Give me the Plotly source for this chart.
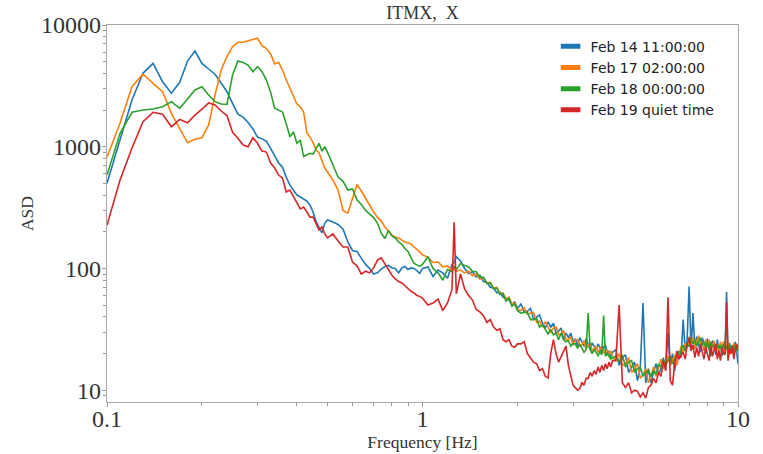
import plotly.graph_objects as go

freq = [0.10, 0.11, 0.12, 0.13, 0.14, 0.15, 0.16, 0.17, 0.18, 0.19, 0.20, 0.21, 0.22, 0.23, 0.24, 0.25,
        0.26, 0.27, 0.28, 0.29, 0.30, 0.31, 0.32, 0.33, 0.34, 0.35, 0.36, 0.37, 0.38, 0.39, 0.40, 0.41,
        0.42, 0.43, 0.44, 0.45, 0.46, 0.47, 0.48, 0.49, 0.50,
        0.52, 0.54, 0.56, 0.58, 0.60, 0.62, 0.64, 0.66, 0.68, 0.70, 0.72, 0.74, 0.76, 0.78, 0.80, 0.82,
        0.84, 0.86, 0.88, 0.90, 0.92, 0.94, 0.96, 0.98, 1.00,
        1.04, 1.08, 1.12, 1.16, 1.20, 1.24, 1.26, 1.28, 1.32, 1.36, 1.40, 1.44, 1.48, 1.52, 1.56, 1.60,
        1.64, 1.68, 1.72, 1.76, 1.80, 1.84, 1.88, 1.92, 1.96, 2.00,
        2.05, 2.10, 2.15, 2.20, 2.25, 2.30, 2.35, 2.40, 2.45, 2.50, 2.55, 2.60, 2.65, 2.70, 2.75, 2.80,
        2.85, 2.90, 2.95, 3.00, 3.05, 3.10, 3.15, 3.20, 3.25, 3.30, 3.35, 3.40, 3.45, 3.50, 3.55, 3.60,
        3.65, 3.70, 3.75, 3.80, 3.85, 3.90, 3.95, 4.00,
        4.1, 4.2, 4.3, 4.4, 4.5, 4.6, 4.7, 4.8, 4.9, 5.0, 5.1, 5.2, 5.3, 5.4, 5.5, 5.6, 5.7, 5.8, 5.9, 6.0,
        6.1, 6.2, 6.3, 6.4, 6.5, 6.6, 6.7, 6.8, 6.9, 7.0, 7.1, 7.2, 7.3, 7.4, 7.5, 7.6, 7.7, 7.8, 7.9, 8.0,
        8.1, 8.2, 8.3, 8.4, 8.5, 8.6, 8.7, 8.8, 8.9, 9.0, 9.1, 9.2, 9.3, 9.4, 9.5, 9.6, 9.7, 9.8, 9.9, 10.0]

feb14 = [500, 1150, 2420, 4010, 4840, 3420, 2750, 3380, 5060, 6110, 4840, 4350, 3940, 3340, 2830, 2270,
         1850, 1750, 1580, 1400, 1200, 1160, 1110, 970, 840, 735, 680, 560, 484, 441, 401, 386,
         372, 358, 332, 290, 242, 215, 196, 236, 250,
         241, 230, 210, 165, 140, 138, 121, 108, 100, 90, 92, 99, 104, 106, 101, 100,
         92, 101, 104, 98, 101, 100, 96, 91, 100,
         103, 86, 97, 92, 83, 108, 112, 125, 115, 100, 91, 94, 85, 88, 78, 77,
         70, 69, 63, 64, 58, 57, 55, 51, 53, 47,
         51, 44, 44.5, 47, 38, 40, 41.5, 35.5, 32.5, 36.5, 33, 35.5, 29.5, 30.5, 32.5, 26,
         29.5, 27, 29.5, 25, 26.5, 23, 27, 25, 23, 26.5, 23.5, 21.5, 24.5, 23, 21.5, 24,
         22.5, 20, 22.5, 23.5, 20, 21, 18.5, 20.5,
         21.5, 16, 18.5, 19.5, 14, 15.5, 17, 12, 15, 52, 11.5, 15, 11.5, 14, 16.5, 13.5, 15, 18.5, 14.5, 30,
         16, 20, 14.5, 18.5, 21, 18.5, 38, 21, 26.5, 71, 21.5, 43, 22, 27.5, 23.5, 20.5, 27, 24.5, 20, 26.5,
         22, 19, 25.5, 23.5, 19.5, 26, 21, 23.5, 19, 25, 21, 64, 18.5, 24.5, 20, 23.5, 18.5, 25, 21, 16.5]

feb17 = [820, 1565, 3110, 3940, 3320, 2830, 1880, 1416, 1078, 1150, 1186, 1507, 2660, 4270, 5490, 6630,
         7210, 7210, 7400, 7680, 7780, 6760, 6410, 5780, 4790, 4940, 4270, 3530, 3020, 2510, 2240, 2120,
         1930, 1300, 1200, 1080, 940, 888, 778, 668, 620,
         532, 441, 300, 285, 370, 490, 433, 379, 326, 291, 264, 245, 219, 203, 188, 181,
         178, 171, 165, 162, 159, 150, 144, 137, 129,
         124, 112, 113, 103, 105, 97, 99, 95, 97, 92, 95, 87, 90, 82, 84, 76,
         77, 69, 70, 62, 63, 56, 58, 51, 52, 46,
         45, 47.5, 42, 43, 43.5, 36, 37, 33.5, 36.5, 33, 30, 32.5, 33, 28.5, 29, 31,
         26, 26, 27.5, 23.5, 26, 26, 23, 23.5, 25.5, 22, 23.5, 24.5, 21, 22, 23, 20.5,
         21.5, 23, 20.5, 20, 21.5, 20, 21, 18.5,
         17.5, 20, 16, 16.5, 18.5, 14, 15, 16.5, 12.5, 13.5, 15, 11.5, 13, 15.5, 13, 15.5, 18, 15, 17, 19,
         16, 18, 19.5, 16, 19, 23, 20, 24.5, 22.5, 27.5, 24, 27, 22, 25.5, 28, 23, 25, 21, 26, 22.5,
         26, 20.5, 23, 25.5, 21, 23.5, 20, 25, 21.5, 25, 20, 23.5, 25, 19.5, 22.5, 20, 24.5, 20.5, 24, 21]

feb18 = [585, 1288, 1918, 2004, 2040, 2130, 2345, 2070, 2466, 2924, 3113, 2660, 2345, 2243, 2230, 3882,
         5060, 4920, 4690, 4130, 4540, 4130, 3530, 2810, 2070, 2004, 1930, 1537, 1208, 1320, 1067, 1135,
         830, 860, 884, 870, 960, 1067, 920, 1000, 900,
         700, 564, 520, 441, 450, 365, 335, 300, 280, 262, 235, 195, 176, 205, 185, 178,
         165, 158, 145, 138, 122, 110, 107, 104, 108,
         125, 100, 92, 80, 98, 94, 105, 98, 110, 106, 103, 95, 94, 84, 85, 75,
         76, 68, 69, 61, 62, 54, 57, 49, 51, 45,
         43, 43.5, 43.5, 38, 38, 39, 33, 34.5, 31.5, 29, 31.5, 28.5, 29.5, 26, 29.5, 26,
         25, 25.5, 23, 24, 24, 22, 24, 22, 20.5, 21.5, 43, 21.5, 20, 21.5, 20.5, 19,
         21, 19.5, 41, 19, 20, 19, 18, 18.5,
         19, 17, 19.5, 15.5, 17, 17.5, 14, 15, 15.5, 13, 14, 14.5, 13, 14.5, 13.5, 16.5, 15.5, 17.5, 16, 17.5,
         19, 16.5, 17.5, 19, 18, 21.5, 23.5, 21, 23.5, 23, 26.5, 24, 25.5, 23, 25, 27, 23.5, 25, 22.5, 25,
         21.5, 25, 22.5, 23.5, 21, 24, 22, 23.5, 21.5, 24, 21.5, 23, 20.5, 24, 21, 23, 21.5, 23.5, 21, 22.5]

feb19 = [227, 532, 975, 1604, 1918, 1847, 1460, 1678, 1575, 1820, 2040, 2286, 2203, 1965, 1803, 1313,
         1172, 1033, 1000, 1186, 1067, 920, 904, 735, 668, 585, 553, 425, 441, 394, 345, 308,
         320, 291, 264, 264, 236, 207, 219, 192, 178,
         192, 168, 150, 150, 113, 105, 90, 95, 92, 101, 117, 122, 109, 97, 88, 82,
         78, 76, 72, 68, 65, 63, 60, 59, 57,
         50, 52, 56, 45, 52, 67, 240, 62, 90, 68, 60, 55, 46, 44, 41, 36,
         38, 33, 31, 32, 26, 25, 26, 23, 22.5, 24,
         24, 25, 20, 18.5, 17, 16.5, 14.5, 15, 13, 12.6, 20, 26, 20, 17, 19, 21,
         23, 16, 13, 11, 10.5, 10, 10.3, 11.5, 11, 12.5, 12.5, 14, 13, 14.5, 13.5, 15.5,
         14, 16, 14.5, 16.5, 15, 17, 15.5, 17.5,
         17.5, 50, 11.5, 10.5, 11.5, 9.5, 10, 9.8, 8.8, 9.5, 8.6, 10.5, 11, 12.5, 11.5, 14, 13, 17.5, 14.5, 58,
         12, 11, 16.5, 21, 18, 19.5, 20.5, 18, 23.5, 27, 21, 23.5, 18.5, 22.5, 19, 24, 20, 18, 22.5, 20,
         17.5, 23, 19, 21.5, 24, 18, 21, 17.5, 22.5, 20, 19.5, 53, 17.5, 22, 20, 23.5, 18, 21.5, 24, 21]

labels = ["Feb 14 11:00:00", "Feb 17 02:00:00", "Feb 18 00:00:00", "Feb 19 quiet time"]
colors = ["#1f77b4", "#ff7f0e", "#2ca02c", "#d62728"]
series = [feb14, feb17, feb18, feb19]

x_ticks = [0.1, 1, 10]
x_ticktext = ["0.1", "1", "10"]
x_minor = [0.2, 0.3, 0.4, 0.5, 0.6, 0.7, 0.8, 0.9, 2, 3, 4, 5, 6, 7, 8, 9]
y_ticks = [10, 100, 1000, 10000]
y_ticktext = ["10", "100", "1000", "10000"]
y_minor = [9, 20, 30, 40, 50, 60, 70, 80, 90, 200, 300, 400, 500, 600, 700, 800, 900,
           2000, 3000, 4000, 5000, 6000, 7000, 8000, 9000]
x_range = [-1, 1]
y_range = [0.903, 4]

fig = go.Figure()
for name, col, vals in zip(labels, colors, series):
    fig.add_trace(go.Scatter(x=freq, y=vals, mode="lines", name=name,
                             line=dict(color=col, width=1.6), showlegend=False))
for name, col in zip(labels, colors):
    fig.add_trace(go.Scatter(x=[None], y=[None], mode="markers", name=name,
                             marker=dict(symbol="line-ew", size=14, color=col,
                                         line=dict(color=col, width=5))))
# helper trace so the minor-tick overlay axes are drawn
fig.add_trace(go.Scatter(x=[None], y=[None], xaxis="x2", yaxis="y2", mode="markers",
                         showlegend=False, hoverinfo="skip"))

serif = "Liberation Serif"
axcol = "#a8a8a8"
tkcol = "#999999"
txt = "#333333"

fig.update_layout(
    width=763, height=454,
    margin=dict(l=107, r=25, t=25, b=52),
    paper_bgcolor="white", plot_bgcolor="white",
    title=dict(text="ITMX,  X", x=0.5, xref="paper", y=1 - 13 / 454, yref="container",
               xanchor="center", yanchor="middle", font=dict(family=serif, size=18, color=txt)),
    legend=dict(x=0.703, y=0.985, xanchor="left", yanchor="top", bgcolor="rgba(0,0,0,0)",
                borderwidth=0, font=dict(family="DejaVu Sans", size=14, color="#222222"),
                itemwidth=30),
    xaxis=dict(type="log", range=x_range, tickmode="array", tickvals=x_ticks, ticktext=x_ticktext,
               automargin=False, showgrid=False, zeroline=False, showline=True, mirror=True,
               linecolor=axcol, linewidth=1.2, ticks="outside", ticklen=4, tickcolor=tkcol,
               ticklabelstandoff=-9,
               tickfont=dict(family=serif, size=24, color=txt),
               title=dict(text="Frequency [Hz]", font=dict(family=serif, size=17.5, color=txt), standoff=4)),
    yaxis=dict(type="log", range=y_range, tickmode="array", tickvals=y_ticks, ticktext=y_ticktext,
               automargin=False, showgrid=False, zeroline=False, showline=True, mirror=True,
               linecolor=axcol, linewidth=1.2, ticks="outside", ticklen=4, tickcolor=tkcol,
               ticklabelstandoff=-4,
               tickfont=dict(family=serif, size=24, color=txt),
               title=dict(text="ASD", font=dict(family=serif, size=17.5, color=txt), standoff=2)),
    xaxis2=dict(type="log", range=x_range, overlaying="x", anchor="y2", side="bottom",
                tickmode="array", tickvals=x_minor, showticklabels=False, ticks="outside",
                ticklen=3, tickcolor=tkcol, showgrid=False, zeroline=False, showline=False,
                automargin=False),
    yaxis2=dict(type="log", range=y_range, overlaying="y", anchor="x2", side="left",
                tickmode="array", tickvals=y_minor, showticklabels=False, ticks="outside",
                ticklen=3, tickcolor=tkcol, showgrid=False, zeroline=False, showline=False,
                automargin=False),
)

fig.write_html("out.html")
